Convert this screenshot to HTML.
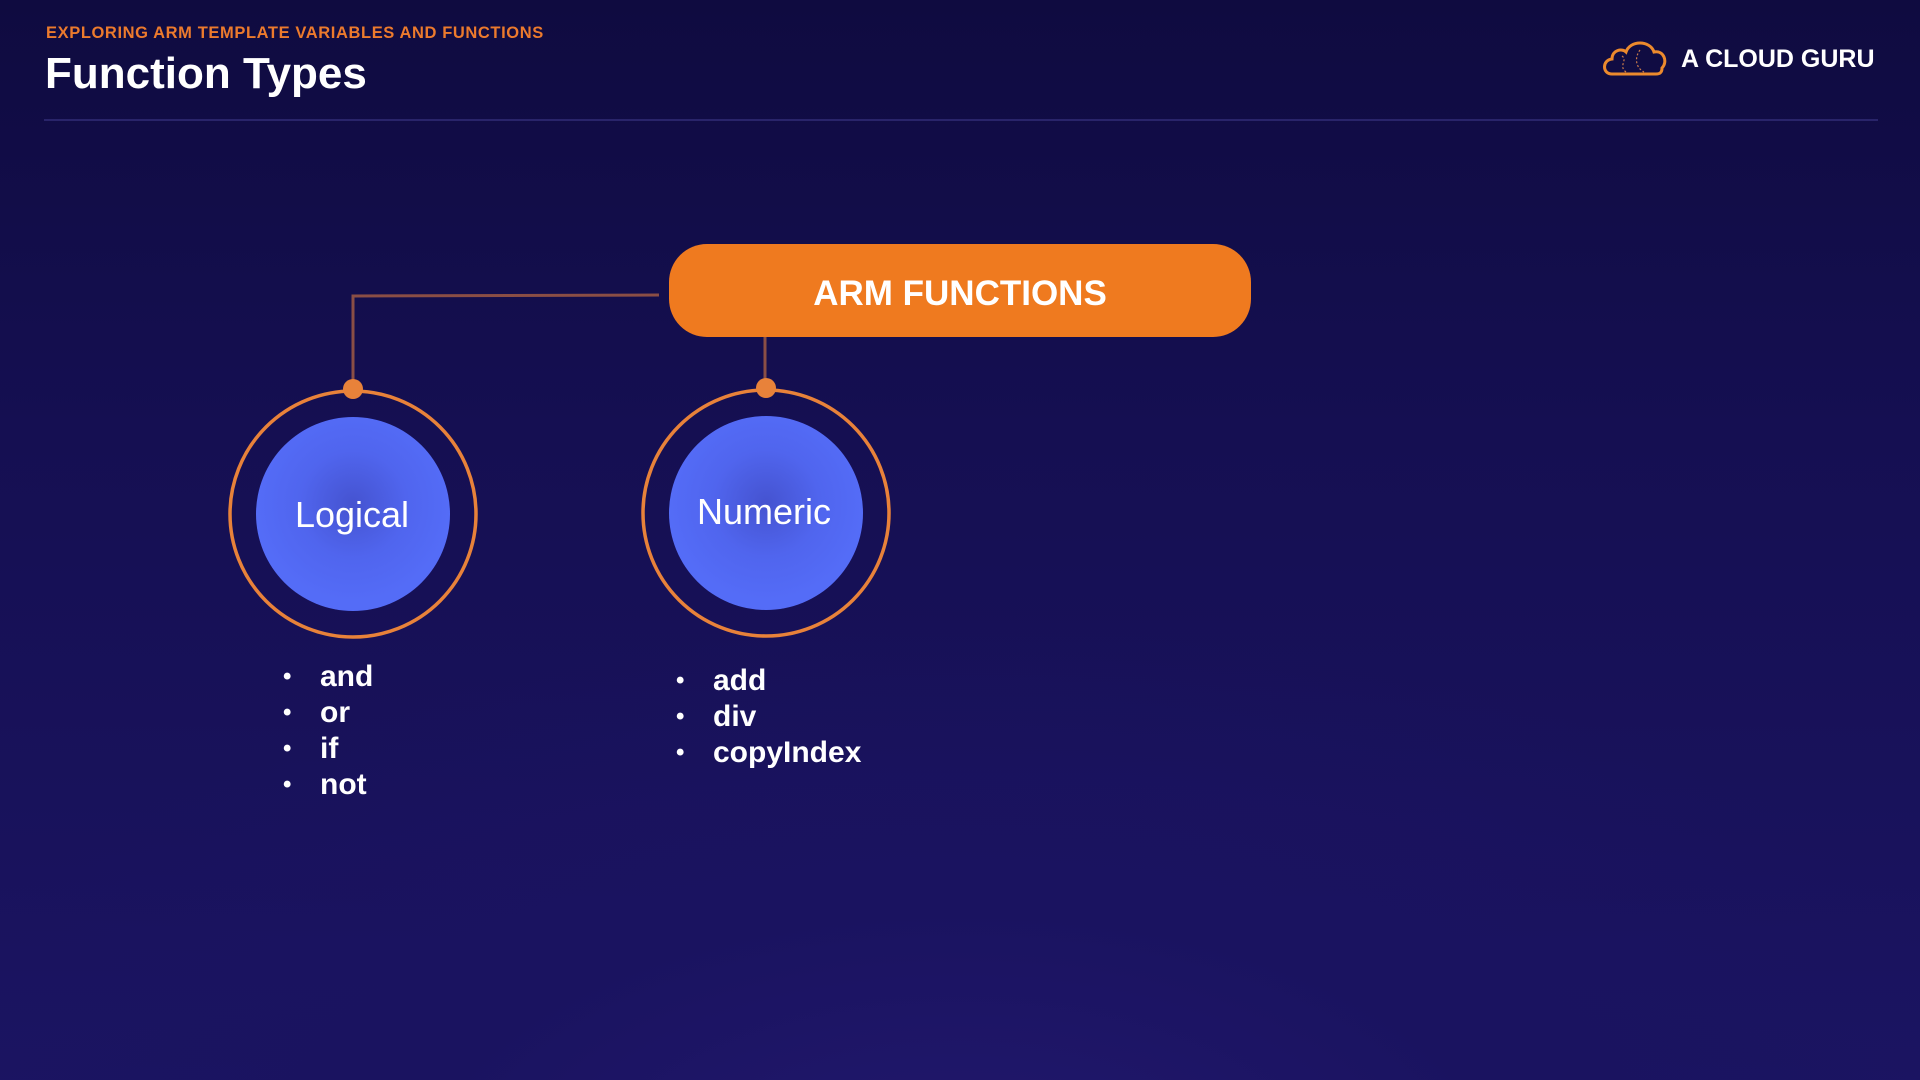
<!DOCTYPE html>
<html><head><meta charset="utf-8">
<style>
html,body{margin:0;padding:0;}
body{width:1920px;height:1080px;overflow:hidden;position:relative;font-family:"Liberation Sans",sans-serif;
background:radial-gradient(ellipse 1400px 700px at 50% 110%, #22186e 0%, #1a1360 40%, transparent 80%), linear-gradient(180deg,#0f0b40 0%,#150f52 40%,#1b1462 100%);}
.abs{position:absolute;}
.li{height:36px;line-height:36px;white-space:nowrap;}
.b{font-size:24px;display:inline-block;width:37px;vertical-align:top;}
</style></head>
<body>
<div class="abs" style="left:46px;top:24px;font-size:16.5px;font-weight:bold;color:#ec7a2d;letter-spacing:0.6px;">EXPLORING ARM TEMPLATE VARIABLES AND FUNCTIONS</div>
<div class="abs" style="left:45px;top:49px;font-size:44px;font-weight:bold;color:#fff;">Function Types</div>
<div class="abs" style="left:44px;top:119px;width:1834px;height:2px;background:#29246a;"></div>

<svg class="abs" style="left:1600px;top:36px" width="70" height="44" viewBox="0 0 70 44">
<path d="M12 38 C2 38 2 24 12 23 C12 14 22 12 26 16 C30 4 50 4 54 16 C64 14 68 26 62 32 C62 38 58 38 56 38 Z" fill="none" stroke="#ec8a2d" stroke-width="3"/>
<path d="M22 20 C28 24 18 30 26 36 M40 14 C34 22 36 32 44 36" fill="none" stroke="#c97a4a" stroke-width="1.2" stroke-dasharray="2 2"/>
</svg>
<div class="abs" style="left:1681px;top:45px;font-size:25px;font-weight:bold;color:#fff;">A CLOUD GURU</div>

<svg class="abs" style="left:0;top:0" width="1920" height="1080">
<defs>
<radialGradient id="g" cx="50%" cy="45%" r="50%">
<stop offset="0%" stop-color="#4553d0"/><stop offset="55%" stop-color="#5065ee"/><stop offset="100%" stop-color="#546cf7"/>
</radialGradient>
</defs>
<polyline points="659,295 353,296 353,389" fill="none" stroke="#8a4e45" stroke-width="3"/>
<line x1="765" y1="335" x2="765" y2="389" stroke="#8a4e45" stroke-width="3"/>
<rect x="669" y="244" width="582" height="93" rx="38" fill="#ef7a1f"/>
<text x="960" y="305" text-anchor="middle" font-family="Liberation Sans" font-weight="bold" font-size="35" fill="#fff">ARM FUNCTIONS</text>
<g>
<circle cx="353" cy="514" r="123" fill="none" stroke="#e8823a" stroke-width="3.5"/>
<circle cx="353" cy="514" r="97" fill="url(#g)"/>
<circle cx="353" cy="389" r="10" fill="#e8823a"/>
<text x="352" y="527" text-anchor="middle" font-family="Liberation Sans" font-size="36" fill="#fff">Logical</text>
</g>
<g>
<circle cx="766" cy="513" r="123" fill="none" stroke="#e8823a" stroke-width="3.5"/>
<circle cx="766" cy="513" r="97" fill="url(#g)"/>
<circle cx="766" cy="388" r="10" fill="#e8823a"/>
<text x="764" y="524" text-anchor="middle" font-family="Liberation Sans" font-size="36" fill="#fff">Numeric</text>
</g>
</svg>

<div class="abs" style="left:283px;top:659px;font-size:30px;font-weight:bold;color:#fff;">
<div class="li"><span class="b">•</span>and</div>
<div class="li"><span class="b">•</span>or</div>
<div class="li"><span class="b">•</span>if</div>
<div class="li"><span class="b">•</span>not</div>
</div>
<div class="abs" style="left:676px;top:663px;font-size:30px;font-weight:bold;color:#fff;">
<div class="li"><span class="b">•</span>add</div>
<div class="li"><span class="b">•</span>div</div>
<div class="li"><span class="b">•</span>copyIndex</div>
</div>
</body></html>
